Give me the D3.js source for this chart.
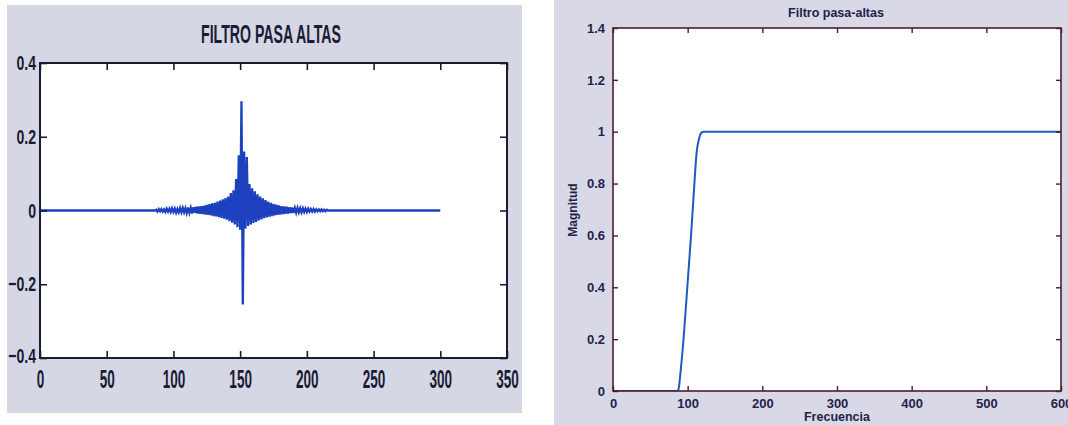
<!DOCTYPE html>
<html>
<head>
<meta charset="utf-8">
<script src="https://cdn.jsdelivr.net/npm/d3@7"></script>
<style>
  html, body { margin: 0; padding: 0; background: #ffffff; }
  svg { display: block; }
</style>
</head>
<body>
<svg id="chart" width="1068" height="425"></svg>
<script>
// ---- Impulse response of the high-pass filter (left panel) ----
// flat (zero) stretches before and after the non-zero part
const leadSamples = [0, 86];
const tailSamples = [216, 300];
const impulseFirstSample = 87;
const impulseValues = [
  0.002, -0.003, 0.004, -0.002, 0.004, -0.003, 0.003, -0.004, 0.005, -0.003,
  0.005, -0.004, 0.006, -0.004, 0.005, -0.006, 0.004, -0.005, 0.007, -0.005,
  0.007, -0.005, 0.006, -0.007, 0.008, -0.006, 0.007, -0.008, 0.009, -0.006,
  0.010, -0.008, 0.011, -0.009, 0.012, -0.010, 0.013, -0.011, 0.015, -0.012,
  0.017, -0.013, 0.019, -0.015, 0.021, -0.016, 0.024, -0.018, 0.027, -0.020,
  0.030, -0.022, 0.034, -0.025, 0.038, -0.029, 0.047, -0.033, 0.055, -0.038,
  0.085, -0.045, 0.150, -0.052, 0.296, -0.255, 0.160, -0.049, 0.145, -0.042,
  0.072, -0.038, 0.060, -0.034, 0.052, -0.031, 0.044, -0.027, 0.038, -0.024,
  0.033, -0.021, 0.028, -0.019, 0.024, -0.017, 0.021, -0.015, 0.018, -0.013,
  0.016, -0.012, 0.014, -0.011, 0.012, -0.010, 0.011, -0.009, 0.010, -0.008,
  0.009, -0.007, 0.008, -0.007, 0.007, -0.006, 0.007, -0.005, 0.006, -0.005,
  0.006, -0.004, 0.005, -0.004, 0.005, -0.003, 0.004, -0.003, 0.004, -0.003,
  0.003, -0.002, 0.003, -0.002, 0.003, -0.002, 0.002, -0.002, 0.002
];
const leftXTicks = [0, 50, 100, 150, 200, 250, 300, 350];
const leftYTicks = [-0.4, -0.2, 0, 0.2, 0.4];
const leftTitle = "FILTRO PASA ALTAS";

// ---- Magnitude response (right panel) ----
const freqPoints = [0, 86, 88, 90, 95, 100, 105, 109, 112, 115, 118, 121, 600];
const magPoints  = [0, 0, 0.01, 0.06, 0.22, 0.42, 0.62, 0.8, 0.92, 0.97, 0.995, 1, 1];
const rightXTicks = [0, 100, 200, 300, 400, 500, 600];
const rightYTicks = [0, 0.2, 0.4, 0.6, 0.8, 1, 1.2, 1.4];
const rightTitle = "Filtro pasa-altas";
const rightXLabel = "Frecuencia";
const rightYLabel = "Magnitud";

const svg = d3.select("#chart");

// squeeze text horizontally to a fraction of its natural width
function squeeze(sel, k) {
  sel.each(function () {
    const w = this.getComputedTextLength();
    d3.select(this).attr("textLength", w * k).attr("lengthAdjust", "spacingAndGlyphs");
  });
}

// ================= LEFT PANEL =================
svg.append("rect").attr("x", 7).attr("y", 5).attr("width", 515).attr("height", 408)
  .attr("fill", "#d6d7e5");

const L = { left: 40, top: 63, right: 507, bottom: 358 };
const lx = d3.scaleLinear().domain([0, 350]).range([L.left, L.right]);
const ly = d3.scaleLinear().domain([-0.4, 0.4]).range([L.bottom, L.top]);

svg.append("rect").attr("x", L.left).attr("y", L.top)
  .attr("width", L.right - L.left).attr("height", L.bottom - L.top).attr("fill", "#ffffff");

svg.append("clipPath").attr("id", "clipL").append("rect")
  .attr("x", L.left).attr("y", L.top).attr("width", L.right - L.left).attr("height", L.bottom - L.top);

const impulsePts = [];
leadSamples.forEach(n => impulsePts.push([n, 0]));
impulseValues.forEach((v, i) => impulsePts.push([impulseFirstSample + i, v]));
tailSamples.forEach(n => impulsePts.push([n, 0]));

svg.append("path").datum(impulsePts)
  .attr("clip-path", "url(#clipL)")
  .attr("fill", "none").attr("stroke", "#1d40bf").attr("stroke-width", 2.3)
  .attr("stroke-linejoin", "miter")
  .attr("d", d3.line().x(d => lx(d[0])).y(d => ly(d[1])));

const leftInk = "#1b1b36";
const leftFont = "'Liberation Sans', Arial, sans-serif";

const lBottom = svg.append("g").attr("transform", `translate(0,${L.bottom})`)
  .call(d3.axisBottom(lx).tickValues(leftXTicks).tickSize(-7).tickSizeOuter(0).tickPadding(12)
    .tickFormat(d3.format("d")));
const lTop = svg.append("g").attr("transform", `translate(0,${L.top})`)
  .call(d3.axisTop(lx).tickValues(leftXTicks).tickSize(-7).tickSizeOuter(0).tickFormat(""));
const lLeft = svg.append("g").attr("transform", `translate(${L.left},0)`)
  .call(d3.axisLeft(ly).tickValues(leftYTicks).tickSize(-7).tickSizeOuter(0).tickPadding(4)
    .tickFormat(d => d === 0 ? "0" : d3.format(".1f")(d)));
const lRight = svg.append("g").attr("transform", `translate(${L.right},0)`)
  .call(d3.axisRight(ly).tickValues(leftYTicks).tickSize(-7).tickSizeOuter(0).tickFormat(""));

[lBottom, lTop, lLeft, lRight].forEach(g => {
  g.select(".domain").remove();
  g.selectAll(".tick line").attr("stroke", leftInk).attr("stroke-width", 1.6);
});
lBottom.selectAll("text").attr("font-family", leftFont).attr("font-weight", "bold")
  .attr("font-size", 26).attr("fill", leftInk);
squeeze(lBottom.selectAll("text"), 0.52);
lLeft.selectAll("text").attr("font-family", leftFont).attr("font-weight", "bold")
  .attr("font-size", 21).attr("fill", leftInk);
// lowest y label sits slightly higher so it clears the x labels below
lLeft.selectAll(".tick").filter(d => d === -0.4).select("text").attr("dy", "0.2em");
squeeze(lLeft.selectAll("text"), 0.67);

svg.append("rect").attr("x", L.left).attr("y", L.top)
  .attr("width", L.right - L.left).attr("height", L.bottom - L.top)
  .attr("fill", "none").attr("stroke", leftInk).attr("stroke-width", 2);

svg.append("text").attr("x", 271).attr("y", 43).attr("text-anchor", "middle")
  .attr("font-family", leftFont).attr("font-weight", "bold").attr("font-size", 26)
  .attr("fill", leftInk).attr("textLength", 140).attr("lengthAdjust", "spacingAndGlyphs")
  .text(leftTitle);

// ================= RIGHT PANEL =================
svg.append("rect").attr("x", 554).attr("y", 0).attr("width", 514).attr("height", 425)
  .attr("fill", "#d8d8e6");

const R = { left: 613, top: 28, right: 1061, bottom: 391 };
const rx = d3.scaleLinear().domain([0, 600]).range([R.left, R.right]);
const ry = d3.scaleLinear().domain([0, 1.4]).range([R.bottom, R.top]);

svg.append("rect").attr("x", R.left).attr("y", R.top)
  .attr("width", R.right - R.left).attr("height", R.bottom - R.top).attr("fill", "#ffffff");

svg.append("clipPath").attr("id", "clipR").append("rect")
  .attr("x", R.left).attr("y", R.top - 2).attr("width", R.right - R.left).attr("height", R.bottom - R.top + 2);

svg.append("path").datum(freqPoints.map((f, i) => [f, magPoints[i]]))
  .attr("clip-path", "url(#clipR)")
  .attr("fill", "none").attr("stroke", "#2058c4").attr("stroke-width", 2)
  .attr("d", d3.line().curve(d3.curveMonotoneX).x(d => rx(d[0])).y(d => ry(d[1])));

const rightInk = "#4a1f30";
const rightText = "#23234a";
const rightFont = "'Liberation Sans', Arial, sans-serif";

const rBottom = svg.append("g").attr("transform", `translate(0,${R.bottom})`)
  .call(d3.axisBottom(rx).tickValues(rightXTicks).tickSize(-5).tickSizeOuter(0).tickPadding(8)
    .tickFormat(d3.format("d")));
const rTop = svg.append("g").attr("transform", `translate(0,${R.top})`)
  .call(d3.axisTop(rx).tickValues(rightXTicks).tickSize(-5).tickSizeOuter(0).tickFormat(""));
const rLeft = svg.append("g").attr("transform", `translate(${R.left},0)`)
  .call(d3.axisLeft(ry).tickValues(rightYTicks).tickSize(-5).tickSizeOuter(0).tickPadding(8)
    .tickFormat(d => (d === 0 || d === 1) ? String(d) : d3.format(".1f")(d)));
const rRight = svg.append("g").attr("transform", `translate(${R.right},0)`)
  .call(d3.axisRight(ry).tickValues(rightYTicks).tickSize(-5).tickSizeOuter(0).tickFormat(""));

[rBottom, rTop, rLeft, rRight].forEach(g => {
  g.select(".domain").remove();
  g.selectAll(".tick line").attr("stroke", rightInk).attr("stroke-width", 1.4);
});
[rBottom, rLeft].forEach(g => g.selectAll("text")
  .attr("font-family", rightFont).attr("font-weight", "bold").attr("font-size", 13)
  .attr("fill", rightText));

svg.append("rect").attr("x", R.left).attr("y", R.top)
  .attr("width", R.right - R.left).attr("height", R.bottom - R.top)
  .attr("fill", "none").attr("stroke", rightInk).attr("stroke-width", 1.6);

svg.append("text").attr("x", 836).attr("y", 17).attr("text-anchor", "middle")
  .attr("font-family", rightFont).attr("font-weight", "bold").attr("font-size", 12.5)
  .attr("fill", rightText).text(rightTitle);

svg.append("text").attr("x", 837).attr("y", 421).attr("text-anchor", "middle")
  .attr("font-family", rightFont).attr("font-weight", "bold").attr("font-size", 12.5)
  .attr("fill", rightText).text(rightXLabel);

svg.append("text").attr("transform", "translate(577,210) rotate(-90)")
  .attr("text-anchor", "middle")
  .attr("font-family", rightFont).attr("font-weight", "bold").attr("font-size", 12)
  .attr("fill", rightText).text(rightYLabel);
</script>
</body>
</html>
